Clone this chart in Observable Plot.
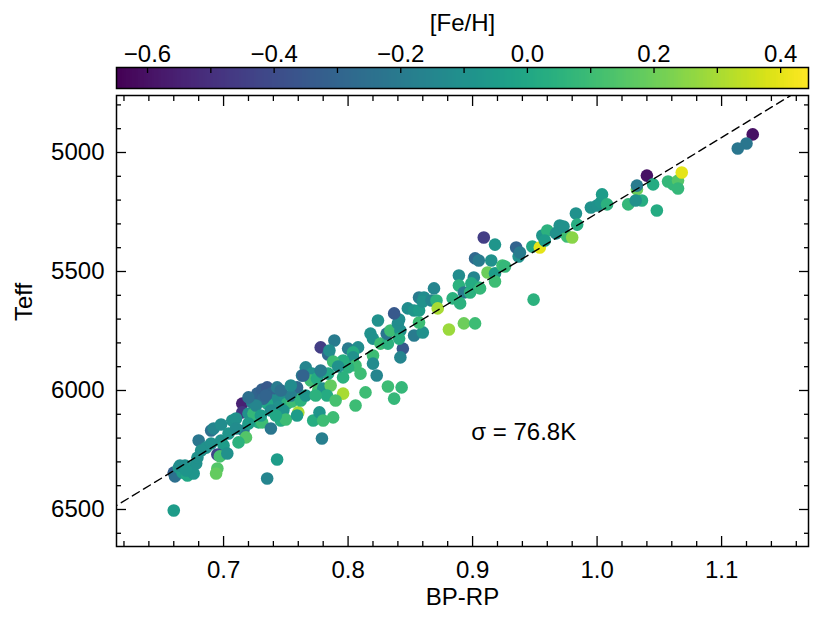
<!DOCTYPE html>
<html><head><meta charset="utf-8">
<script src="https://cdn.jsdelivr.net/npm/d3@7"></script>
<script src="https://cdn.jsdelivr.net/npm/@observablehq/plot@0.6"></script>
<style>
body{margin:0;background:#fff;}
#chart{position:relative;width:830px;height:623px;font-family:"Liberation Sans",Arial,sans-serif;}
#chart svg{display:block;}
</style></head><body><div id="chart"></div>
<script>
const bpRp = [0.660,0.660,0.661,0.664,0.667,0.669,0.671,0.674,0.676,0.678,0.679,0.680,0.686,0.690,0.690,0.692,0.698,0.698,0.700,0.695,0.697,0.703,0.695,0.694,0.665,0.670,0.682,
0.716,0.718,0.712,0.715,0.715,0.720,0.723,0.727,0.731,0.735,0.738,0.743,0.746,0.740,0.735,0.732,0.750,0.751,0.744,0.748,0.738,0.728,0.731,0.724,0.738,0.746,0.750,0.755,0.759,0.760,0.759,0.759,0.763,0.766,0.771,0.770,0.775,0.779,0.776,0.780,0.786,0.783,0.772,0.777,0.780,0.788,0.779,0.743,0.735,0.707,0.720,0.710,0.726,0.754,0.730,0.742,0.720,0.734,0.746,0.754,0.762,0.766,0.774,0.704,0.710,
0.778,0.789,0.784,0.785,0.800,0.808,0.804,0.804,0.844,0.842,0.820,0.820,0.823,0.810,0.806,0.800,0.796,0.796,0.788,0.792,0.784,0.778,0.764,0.796,0.814,0.832,0.843,0.837,0.806,0.790,
0.818,0.820,0.826,0.832,0.831,0.834,0.842,0.841,0.853,0.860,0.824,0.840,0.841,0.837,0.857,0.848,0.853,0.857,0.857,0.861,0.860,0.867,0.871,0.872,0.869,0.881,0.893,0.902,
0.889,0.901,0.889,0.893,0.898,0.905,0.884,0.890,0.899,0.909,0.918,0.902,0.905,0.915,0.912,0.918,0.918,0.924,0.926,0.906,
0.935,0.937,0.938,0.948,0.954,0.956,0.960,0.968,0.970,0.967,0.976,0.980,0.983,0.984,0.995,1.000,1.003,1.004,1.008,0.949,1.025,1.032,1.032,1.036,1.031,1.040,1.045,1.048,1.057,1.061,1.065,1.065,1.068,1.125,1.120,1.113,0.958,0.973];
const teff = [6504,6345,6361,6324,6345,6315,6357,6332,6349,6307,6282,6210,6240,6223,6168,6160,6143,6210,6231,6269,6277,6265,6328,6349,6315,6336,6252,
6168,6197,6218,6055,6092,6097,6050,6013,5996,5987,6013,5987,6029,6042,6055,6034,6034,6055,6071,6084,6084,6134,6134,6097,6160,6126,6122,6046,6013,6092,6105,5987,5937,5903,5929,5958,5950,5924,6000,5992,5979,6021,6126,6092,6126,6113,6202,6290,6370,6126,6139,6118,6063,6021,6105,6105,6029,6021,6000,5979,6042,6021,6021,6181,6160,
5819,5790,5849,5832,5824,5819,5840,5861,5824,5861,5853,5887,5937,5929,5895,5903,5874,5945,5878,5899,5929,5916,5937,6013,6008,5983,5987,6034,6063,6042,
5761,5782,5803,5803,5761,5748,5748,5782,5769,5756,5706,5718,5702,5676,5714,5655,5664,5664,5609,5609,5626,5622,5622,5655,5571,5744,5718,5718,
5517,5525,5559,5588,5588,5567,5613,5634,5550,5357,5387,5445,5454,5454,5504,5508,5542,5475,5479,5571,
5399,5437,5420,5395,5399,5349,5328,5336,5307,5340,5353,5357,5256,5303,5231,5223,5210,5176,5218,5618,5218,5155,5139,5202,5202,5097,5134,5244,5122,5134,5118,5151,5084,4924,4962,4983,5370,5311];
const feh = [-0.05,-0.32,-0.25,-0.08,-0.05,-0.10,0.00,-0.05,-0.08,-0.10,-0.10,-0.22,-0.10,-0.10,-0.25,-0.15,-0.12,-0.10,-0.05,-0.42,0.12,-0.10,0.15,0.18,-0.12,-0.08,-0.10,
-0.20,0.15,0.05,-0.55,-0.48,-0.10,-0.18,-0.30,-0.32,-0.35,-0.30,-0.20,-0.10,-0.12,0.00,-0.28,-0.10,0.05,-0.10,-0.08,-0.12,0.03,0.10,0.08,-0.22,0.02,0.10,0.10,0.08,0.30,-0.05,-0.28,-0.20,-0.15,-0.10,0.10,0.02,-0.12,0.12,-0.10,0.18,0.02,0.03,-0.08,0.10,0.10,-0.18,-0.05,-0.15,-0.10,-0.05,-0.10,-0.15,-0.18,-0.05,0.00,-0.25,-0.30,-0.25,-0.12,0.05,-0.08,0.05,-0.08,-0.12,
-0.45,-0.20,-0.28,-0.12,-0.20,-0.12,0.02,-0.10,-0.35,-0.15,0.10,-0.12,-0.15,0.10,0.10,0.05,0.03,0.05,0.10,-0.10,0.00,-0.20,-0.30,0.30,0.10,0.10,0.08,0.08,0.10,0.12,
-0.10,-0.10,0.10,0.05,-0.22,0.10,-0.10,0.03,-0.20,-0.10,-0.10,-0.12,-0.12,-0.35,0.10,-0.12,-0.08,-0.05,-0.20,-0.12,-0.10,-0.15,0.05,0.30,-0.15,0.28,0.20,0.10,
-0.12,-0.15,0.05,-0.20,0.05,0.02,0.05,0.05,0.02,-0.45,-0.08,-0.28,-0.20,-0.10,0.20,-0.05,0.10,0.10,0.08,0.08,
-0.30,-0.10,-0.20,0.00,0.40,-0.08,0.05,-0.05,-0.10,-0.10,0.10,0.25,-0.10,0.03,-0.10,-0.10,-0.08,-0.05,0.05,0.05,0.08,0.20,-0.20,0.03,-0.10,-0.60,0.02,0.02,0.08,0.08,0.15,0.08,0.40,-0.60,-0.22,-0.22,-0.05,-0.10];

const xTicks = [0.7, 0.8, 0.9, 1.0, 1.1];
const yTicks = [5000, 5500, 6000, 6500];
const fehTicks = [-0.6, -0.4, -0.2, 0.0, 0.2, 0.4];
const fitBp = [0.60, 1.20];
const fitTeff = [6528, 4619];
const sigmaText = "σ = 76.8K";
const sigmaBp = 0.899;
const sigmaTeff = 6176;
const xLabel = "BP-RP", yLabel = "Teff", cLabel = "[Fe/H]";

const xDomain = [0.614, 1.1698];
const yDomain = [4760.5, 6655.5];
const fehDomain = [-0.649, 0.444];

const FS = 24;
const FONT = '"Liberation Sans", Arial, sans-serif';
const colorScale = {type: "linear", scheme: "viridis", domain: fehDomain, clamp: true};

const points = bpRp.map((b, i) => ({bp: b, teff: teff[i], feh: feh[i]}));
const fit = fitBp.map((b, i) => ({bp: b, teff: fitTeff[i]}));

const xMinor = d3.range(0.62, 1.17, 0.02).map(v => +v.toFixed(2)).filter(v => !xTicks.some(t => Math.abs(t - v) < 1e-6));
const yMinor = d3.range(4800, 6700, 100).filter(v => v % 500 !== 0);
const fehMinor = d3.range(-6, 5, 1).map(v => v / 10);

const blank = () => "";
const N = 350;
const step = (fehDomain[1] - fehDomain[0]) / N;

const cbar = Plot.plot({
  width: 830, height: 92,
  marginTop: 67, marginBottom: 4, marginLeft: 116, marginRight: 22,
  style: {fontFamily: FONT, fontSize: FS + "px", background: "white", color: "black"},
  x: {domain: fehDomain},
  y: {domain: [0, 1], axis: null},
  color: colorScale,
  marks: [
    Plot.rect(d3.range(N), {
      x1: i => fehDomain[0] + i * step,
      x2: i => Math.min(fehDomain[1], fehDomain[0] + (i + 1.8) * step),
      y1: 0, y2: 1,
      fill: i => fehDomain[0] + (i + 0.5) * step,
      shapeRendering: "crispEdges"
    }),
    Plot.frame({stroke: "black", strokeWidth: 1.5}),
    Plot.axisX({anchor: "top", ticks: fehMinor, tickSize: -5, tickFormat: blank, label: null, strokeWidth: 1.3}),
    Plot.axisX({anchor: "top", ticks: fehTicks, tickSize: 0, tickPadding: 6, tickFormat: d3.format(".1f"), label: null, fontSize: FS}),
    Plot.text([cLabel], {frameAnchor: "top", dy: -54, text: d => d, fontSize: FS})
  ]
});

const main = Plot.plot({
  width: 830, height: 531,
  marginTop: 3, marginBottom: 77, marginLeft: 116, marginRight: 22,
  style: {fontFamily: FONT, fontSize: FS + "px", background: "white", color: "black"},
  x: {domain: xDomain},
  y: {domain: yDomain, reverse: true},
  color: colorScale,
  marks: [
    Plot.dot(points, {x: "bp", y: "teff", fill: "feh", r: 6.3}),
    Plot.line(fit, {x: "bp", y: "teff", stroke: "black", strokeWidth: 1.4, strokeDasharray: "8,5", clip: true}),
    Plot.frame({stroke: "black", strokeWidth: 1.5}),
    Plot.axisX({anchor: "bottom", ticks: xTicks, tickSize: -10, tickFormat: blank, label: null, strokeWidth: 1.3}),
    Plot.axisX({anchor: "top", ticks: xTicks, tickSize: -10, tickFormat: blank, label: null, strokeWidth: 1.3}),
    Plot.axisX({anchor: "bottom", ticks: xMinor, tickSize: -5, tickFormat: blank, label: null, strokeWidth: 1.3}),
    Plot.axisX({anchor: "top", ticks: xMinor, tickSize: -5, tickFormat: blank, label: null, strokeWidth: 1.3}),
    Plot.axisY({anchor: "left", ticks: yTicks, tickSize: -10, tickFormat: blank, label: null, strokeWidth: 1.3}),
    Plot.axisY({anchor: "right", ticks: yTicks, tickSize: -10, tickFormat: blank, label: null, strokeWidth: 1.3}),
    Plot.axisY({anchor: "left", ticks: yMinor, tickSize: -5, tickFormat: blank, label: null, strokeWidth: 1.3}),
    Plot.axisY({anchor: "right", ticks: yMinor, tickSize: -5, tickFormat: blank, label: null, strokeWidth: 1.3}),
    Plot.axisX({anchor: "bottom", ticks: xTicks, tickSize: 0, tickPadding: 14, tickFormat: d3.format(".1f"), label: null, fontSize: FS}),
    Plot.axisY({anchor: "left", ticks: yTicks, tickSize: 0, tickPadding: 12, tickFormat: d3.format("d"), label: null, fontSize: FS}),
    Plot.text([xLabel], {frameAnchor: "bottom", dy: 58, text: d => d, fontSize: FS}),
    Plot.text([yLabel], {frameAnchor: "left", dx: -92, rotate: -90, text: d => d, fontSize: FS}),
    Plot.text([sigmaText], {x: () => sigmaBp, y: () => sigmaTeff, text: d => d, textAnchor: "start", fontSize: FS})
  ]
});

const root = document.getElementById("chart");
root.appendChild(cbar);
root.appendChild(main);
</script></body></html>
